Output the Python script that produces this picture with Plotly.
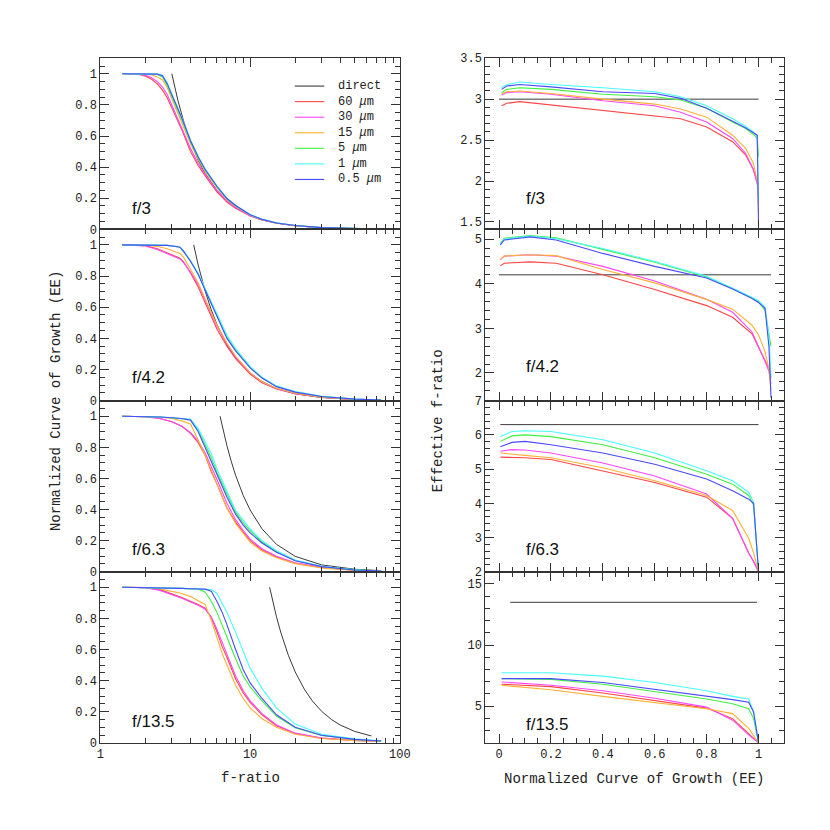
import plotly.graph_objects as go

W = H = 830

# ---------------- left column: normalized curve of growth vs f-ratio ----------------
# f/3
fr_f3 = [1.4, 1.8, 2.0, 2.2, 2.4, 2.6, 2.8, 3.0, 3.5, 4.0, 4.5, 5, 6, 7, 8, 10, 12, 15, 20, 30, 50, 75]
ee_f3_60 = [1, 0.997, 0.985, 0.965, 0.935, 0.895, 0.845, 0.78, 0.64, 0.50, 0.41, 0.345, 0.24, 0.175, 0.135, 0.085, 0.06, 0.039, 0.023, 0.01, 0.004, 0.002]
ee_f3_30 = [1, 0.998, 0.99, 0.975, 0.95, 0.915, 0.865, 0.8, 0.655, 0.52, 0.425, 0.355, 0.25, 0.182, 0.14, 0.087, 0.061, 0.04, 0.023, 0.01, 0.004, 0.002]
ee_f3_15 = [1, 1, 0.998, 0.993, 0.98, 0.96, 0.91, 0.84, 0.69, 0.55, 0.45, 0.372, 0.267, 0.19, 0.148, 0.091, 0.063, 0.041, 0.024, 0.011, 0.004, 0.002]
ee_f3_5 = [1, 1, 1, 1, 0.996, 0.98, 0.925, 0.855, 0.705, 0.562, 0.458, 0.38, 0.273, 0.195, 0.151, 0.093, 0.064, 0.041, 0.024, 0.011, 0.004, 0.002]
ee_f3_1 = [1, 1, 1, 1, 0.998, 0.99, 0.94, 0.87, 0.72, 0.575, 0.47, 0.39, 0.28, 0.2, 0.155, 0.095, 0.065, 0.042, 0.024, 0.011, 0.004, 0.002]
ee_f3_05 = [1, 1, 1, 1, 0.998, 0.988, 0.935, 0.865, 0.715, 0.57, 0.465, 0.386, 0.277, 0.198, 0.153, 0.094, 0.064, 0.041, 0.024, 0.011, 0.004, 0.002]
direct_fr_f3 = [3, 3.3, 3.6, 4, 4.5, 5, 6, 7, 8, 10, 12, 15, 20, 30, 50, 72]
direct_ee_f3 = [1, 0.826, 0.694, 0.563, 0.444, 0.36, 0.25, 0.184, 0.141, 0.09, 0.063, 0.04, 0.023, 0.01, 0.004, 0.002]

# f/4.2
fr_f42 = [1.4, 2.0, 2.4, 2.8, 3.2, 3.4, 3.6, 4.0, 4.5, 5, 5.5, 6, 7, 8, 10, 12, 15, 20, 30, 50, 75]
ee_f42_60 = [1, 0.995, 0.975, 0.95, 0.93, 0.915, 0.89, 0.82, 0.73, 0.63, 0.54, 0.46, 0.35, 0.27, 0.17, 0.115, 0.075, 0.045, 0.022, 0.008, 0.003]
ee_f42_30 = [1, 0.993, 0.97, 0.945, 0.925, 0.91, 0.885, 0.825, 0.745, 0.65, 0.56, 0.48, 0.365, 0.28, 0.178, 0.12, 0.078, 0.047, 0.023, 0.008, 0.003]
ee_f42_15 = [1, 0.998, 0.99, 0.975, 0.955, 0.945, 0.92, 0.845, 0.755, 0.655, 0.565, 0.485, 0.37, 0.285, 0.18, 0.122, 0.08, 0.048, 0.023, 0.008, 0.003]
ee_f42_5 = [1, 1, 1, 0.997, 0.99, 0.983, 0.955, 0.895, 0.815, 0.715, 0.628, 0.55, 0.41, 0.327, 0.215, 0.147, 0.092, 0.056, 0.027, 0.01, 0.004]
ee_f42_1 = [1, 1, 1, 0.997, 0.99, 0.985, 0.96, 0.9, 0.82, 0.72, 0.635, 0.56, 0.42, 0.335, 0.22, 0.15, 0.095, 0.058, 0.028, 0.01, 0.004]
ee_f42_05 = [1, 1, 1, 0.997, 0.99, 0.985, 0.958, 0.895, 0.81, 0.71, 0.62, 0.54, 0.40, 0.32, 0.21, 0.145, 0.09, 0.055, 0.027, 0.01, 0.004]
direct_fr_f42 = [4.2, 4.5, 5, 5.5, 6, 7, 8, 10, 12, 15, 20, 30, 50, 72]
direct_ee_f42 = [1, 0.871, 0.706, 0.583, 0.49, 0.36, 0.276, 0.176, 0.123, 0.078, 0.044, 0.02, 0.007, 0.003]

# f/6.3
fr_f63 = [1.4, 2.0, 2.5, 3.0, 3.5, 4.0, 4.5, 5, 5.5, 6, 7, 8, 9, 10, 12, 15, 20, 30, 50, 75]
ee_f63_60 = [1, 0.997, 0.985, 0.965, 0.935, 0.89, 0.83, 0.75, 0.645, 0.565, 0.41, 0.32, 0.255, 0.2, 0.14, 0.095, 0.055, 0.027, 0.01, 0.004]
ee_f63_30 = [1, 0.997, 0.985, 0.965, 0.935, 0.895, 0.84, 0.765, 0.675, 0.595, 0.44, 0.335, 0.265, 0.21, 0.148, 0.1, 0.058, 0.028, 0.01, 0.004]
ee_f63_15 = [1, 0.999, 0.995, 0.985, 0.97, 0.95, 0.85, 0.75, 0.655, 0.57, 0.41, 0.31, 0.245, 0.19, 0.133, 0.09, 0.052, 0.025, 0.009, 0.004]
ee_f63_5 = [1, 0.998, 0.995, 0.99, 0.986, 0.978, 0.91, 0.82, 0.735, 0.64, 0.5, 0.383, 0.315, 0.265, 0.193, 0.13, 0.072, 0.034, 0.012, 0.005]
ee_f63_1 = [1, 0.998, 0.995, 0.99, 0.987, 0.98, 0.92, 0.84, 0.76, 0.66, 0.52, 0.395, 0.33, 0.275, 0.2, 0.135, 0.075, 0.035, 0.012, 0.005]
ee_f63_05 = [1, 0.998, 0.995, 0.99, 0.985, 0.975, 0.9, 0.8, 0.71, 0.62, 0.48, 0.37, 0.3, 0.25, 0.185, 0.125, 0.07, 0.033, 0.011, 0.005]
direct_fr_f63 = [6.3, 6.6, 7, 7.5, 8, 9, 10, 12, 15, 20, 30, 50, 72]
direct_ee_f63 = [1, 0.911, 0.81, 0.706, 0.62, 0.49, 0.397, 0.276, 0.176, 0.099, 0.044, 0.016, 0.008]

# f/13.5
fr_f135 = [1.4, 2.0, 2.5, 3.0, 3.5, 4.0, 4.5, 5.0, 5.5, 6.0, 6.5, 7, 8, 9, 10, 12, 15, 20, 30, 50, 75]
ee_f135_60 = [1, 0.998, 0.985, 0.96, 0.935, 0.91, 0.89, 0.865, 0.805, 0.715, 0.62, 0.55, 0.41, 0.32, 0.26, 0.18, 0.11, 0.06, 0.03, 0.015, 0.01]
ee_f135_30 = [1, 0.997, 0.98, 0.955, 0.93, 0.905, 0.885, 0.86, 0.81, 0.73, 0.64, 0.57, 0.43, 0.335, 0.27, 0.188, 0.115, 0.062, 0.031, 0.015, 0.01]
ee_f135_15 = [1, 0.999, 0.99, 0.975, 0.96, 0.94, 0.915, 0.89, 0.79, 0.67, 0.575, 0.5, 0.37, 0.285, 0.225, 0.155, 0.1, 0.055, 0.028, 0.014, 0.01]
ee_f135_5 = [1, 0.999, 0.997, 0.995, 0.993, 0.99, 0.988, 0.97, 0.91, 0.84, 0.76, 0.68, 0.54, 0.43, 0.36, 0.27, 0.172, 0.097, 0.047, 0.021, 0.012]
ee_f135_1 = [1, 0.999, 0.997, 0.995, 0.993, 0.991, 0.99, 0.988, 0.985, 0.96, 0.9, 0.84, 0.71, 0.59, 0.48, 0.35, 0.225, 0.12, 0.055, 0.025, 0.012]
ee_f135_05 = [1, 0.999, 0.997, 0.995, 0.993, 0.991, 0.99, 0.988, 0.975, 0.91, 0.84, 0.76, 0.6, 0.47, 0.385, 0.285, 0.18, 0.1, 0.048, 0.022, 0.012]
direct_fr_f135 = [13.5, 14, 15, 16, 18, 20, 23, 26, 30, 35, 40, 50, 64.5]
direct_ee_f135 = [1, 0.93, 0.81, 0.712, 0.563, 0.456, 0.345, 0.27, 0.203, 0.149, 0.114, 0.073, 0.044]

# ---------------- right column: effective f-ratio vs normalized EE ----------------
eeg_f3 = [0.01, 0.03, 0.08, 0.2, 0.4, 0.6, 0.7, 0.8, 0.9, 0.95, 0.98, 0.995, 1.0]
feff_f3_60 = [2.92, 2.95, 2.97, 2.93, 2.86, 2.80, 2.76, 2.66, 2.48, 2.32, 2.14, 2.00, 1.92]
feff_f3_30 = [3.05, 3.08, 3.09, 3.06, 2.98, 2.92, 2.84, 2.72, 2.52, 2.34, 2.14, 1.98, 1.90]
feff_f3_15 = [3.07, 3.09, 3.10, 3.07, 3.00, 2.94, 2.88, 2.78, 2.56, 2.40, 2.22, 2.00, 1.60]
feff_f3_5 = [3.08, 3.12, 3.14, 3.12, 3.06, 3.03, 2.99, 2.89, 2.72, 2.64, 2.57, 2.52, 2.30]
feff_f3_1 = [3.14, 3.18, 3.21, 3.18, 3.14, 3.09, 3.03, 2.92, 2.76, 2.67, 2.60, 2.54, 1.75]
feff_f3_05 = [3.12, 3.16, 3.18, 3.15, 3.09, 3.07, 3.01, 2.89, 2.73, 2.65, 2.59, 2.56, 1.45]
direct_eeg_f3 = [0, 1.0]
direct_feff_f3 = [3, 3]

eeg_f42 = [0.005, 0.02, 0.12, 0.22, 0.4, 0.6, 0.8, 0.9, 0.975, 1.0, 1.025, 1.04, 1.048]
feff_f42_60 = [4.40, 4.46, 4.49, 4.46, 4.20, 3.87, 3.51, 3.25, 2.88, 2.58, 2.26, 2.10, 1.89]
feff_f42_30 = [4.54, 4.62, 4.65, 4.62, 4.39, 4.06, 3.65, 3.36, 2.92, 2.60, 2.26, 2.04, 1.75]
feff_f42_15 = [4.54, 4.62, 4.65, 4.63, 4.32, 4.02, 3.65, 3.43, 3.07, 2.85, 2.48, 2.10, 1.60]
feff_f42_5 = [4.90, 5.02, 5.08, 5.03, 4.77, 4.48, 4.15, 3.90, 3.68, 3.60, 3.40, 2.85, 2.60]
feff_f42_1 = [4.87, 5.00, 5.07, 5.01, 4.79, 4.50, 4.17, 3.91, 3.70, 3.62, 3.48, 2.85, 1.90]
feff_f42_05 = [4.87, 4.98, 5.05, 4.98, 4.68, 4.39, 4.13, 3.88, 3.67, 3.58, 3.45, 2.60, 1.45]
direct_eeg_f42 = [0, 1.048]
direct_feff_f42 = [4.2, 4.2]

eeg_f63 = [0.005, 0.05, 0.1, 0.2, 0.4, 0.6, 0.8, 0.9, 0.962, 0.981, 1.0]
feff_f63_60 = [5.35, 5.34, 5.33, 5.28, 4.95, 4.61, 4.18, 3.56, 2.55, 2.30, 2.0]
feff_f63_30 = [5.52, 5.57, 5.56, 5.47, 5.18, 4.80, 4.27, 3.56, 2.55, 2.30, 2.0]
feff_f63_15 = [5.47, 5.43, 5.40, 5.33, 5.04, 4.66, 4.23, 3.79, 2.98, 2.55, 2.0]
feff_f63_5 = [5.81, 5.97, 6.00, 5.95, 5.71, 5.33, 4.85, 4.56, 4.23, 3.94, 2.0]
feff_f63_1 = [5.95, 6.10, 6.12, 6.10, 5.86, 5.47, 4.95, 4.66, 4.32, 4.03, 2.02]
feff_f63_05 = [5.65, 5.78, 5.81, 5.71, 5.47, 5.14, 4.71, 4.37, 4.12, 4.0, 2.0]
direct_eeg_f63 = [0.005, 1.0]
direct_feff_f63 = [6.3, 6.3]

eeg_f135 = [0.01, 0.2, 0.4, 0.6, 0.8, 0.9, 0.962, 0.981, 1.0]
feff_f135_60 = [6.79, 6.60, 6.07, 5.45, 4.84, 3.98, 2.78, 2.4, 2.0]
feff_f135_30 = [6.98, 6.71, 6.26, 5.64, 4.92, 3.85, 2.65, 2.3, 2.0]
feff_f135_15 = [6.71, 6.34, 5.80, 5.27, 4.79, 4.39, 3.18, 2.6, 2.0]
feff_f135_5 = [7.25, 7.19, 6.79, 6.18, 5.59, 5.19, 4.79, 3.98, 2.0]
feff_f135_1 = [7.73, 7.73, 7.46, 6.93, 6.26, 5.80, 5.59, 4.52, 2.06]
feff_f135_05 = [7.25, 7.25, 6.93, 6.39, 5.86, 5.53, 5.32, 4.52, 2.0]
direct_eeg_f135 = [0.043, 0.994]
direct_feff_f135 = [13.5, 13.5]

legend_names = ["direct", "60 <i>μ</i>m", "30 <i>μ</i>m", "15 <i>μ</i>m",
                "5 <i>μ</i>m", "1 <i>μ</i>m", "0.5 <i>μ</i>m"]
line_colors = ["#3a3a3a", "#ff4545", "#ff45ff", "#ffb035", "#3ff03f", "#45ffff", "#4a4aff"]
panel_labels = ["f/3", "f/4.2", "f/6.3", "f/13.5"]

left_panels = [
    (fr_f3, [ee_f3_60, ee_f3_30, ee_f3_15, ee_f3_5, ee_f3_1, ee_f3_05], direct_fr_f3, direct_ee_f3),
    (fr_f42, [ee_f42_60, ee_f42_30, ee_f42_15, ee_f42_5, ee_f42_1, ee_f42_05], direct_fr_f42, direct_ee_f42),
    (fr_f63, [ee_f63_60, ee_f63_30, ee_f63_15, ee_f63_5, ee_f63_1, ee_f63_05], direct_fr_f63, direct_ee_f63),
    (fr_f135, [ee_f135_60, ee_f135_30, ee_f135_15, ee_f135_5, ee_f135_1, ee_f135_05], direct_fr_f135, direct_ee_f135),
]
right_panels = [
    (eeg_f3, [feff_f3_60, feff_f3_30, feff_f3_15, feff_f3_5, feff_f3_1, feff_f3_05], direct_eeg_f3, direct_feff_f3),
    (eeg_f42, [feff_f42_60, feff_f42_30, feff_f42_15, feff_f42_5, feff_f42_1, feff_f42_05], direct_eeg_f42, direct_feff_f42),
    (eeg_f63, [feff_f63_60, feff_f63_30, feff_f63_15, feff_f63_5, feff_f63_1, feff_f63_05], direct_eeg_f63, direct_feff_f63),
    (eeg_f135, [feff_f135_60, feff_f135_30, feff_f135_15, feff_f135_5, feff_f135_1, feff_f135_05], direct_eeg_f135, direct_feff_f135),
]

# panel geometry in pixels (top/bottom edges shared by both columns)
edges = [45, 219, 393.3, 567.3, 741.3]
left_px = [90, 395]
right_px = [482, 786.7]

fig = go.Figure()


def add_panel(n, xs, series, dx, dy):
    xa = "x" if n == 1 else "x%d" % n
    ya = "y" if n == 1 else "y%d" % n
    fig.add_trace(go.Scatter(x=dx, y=dy, mode="lines", xaxis=xa, yaxis=ya, showlegend=False,
                             line=dict(color=line_colors[0], width=1)))
    for i, ys in enumerate(series):
        fig.add_trace(go.Scatter(x=xs, y=ys, mode="lines", xaxis=xa, yaxis=ya, showlegend=False,
                                 line=dict(color=line_colors[i + 1], width=1.1)))


for k, p in enumerate(left_panels):
    add_panel(k + 1, *p)
for k, p in enumerate(right_panels):
    add_panel(k + 5, *p)

tickfont = dict(family="Liberation Mono", size=12, color="#222")
axis_common = dict(showline=True, linecolor="#333", linewidth=1, mirror="allticks",
                   ticks="inside", ticklen=9, tickcolor="#333", tickwidth=1,
                   showgrid=False, zeroline=False, tickfont=tickfont)


def minor(dt, t0=0):
    return dict(ticks="inside", ticklen=5, tickcolor="#333", tickwidth=1, dtick=dt, tick0=t0, showgrid=False)


layout = {}
right_y = [
    dict(range=[1.41, 3.5], tick0=1.5, dtick=0.5, mdt=0.1),
    dict(range=[1.38, 5.22], tick0=2, dtick=1, mdt=0.2),
    dict(range=[2, 7], tick0=2, dtick=1, mdt=0.2),
    dict(range=[2, 16], tick0=5, dtick=5, mdt=1),
]
for k in range(4):
    top, bot = edges[k], edges[k + 1]
    ydom = [1 - bot / H, 1 - top / H]
    # left column
    n = k + 1
    xk = "xaxis" if n == 1 else "xaxis%d" % n
    yk = "yaxis" if n == 1 else "yaxis%d" % n
    layout[xk] = dict(axis_common, type="log", range=[0, 2], domain=[left_px[0] / W, left_px[1] / W],
                      anchor="y" if n == 1 else "y%d" % n,
                      tickmode="linear", tick0=0, dtick=1, showticklabels=(k == 3),
                      minor=dict(ticks="inside", ticklen=5, tickcolor="#333", tickwidth=1,
                                 dtick="D1", showgrid=False))
    layout[yk] = dict(axis_common, range=[0, 1.1], domain=ydom, anchor="x" if n == 1 else "x%d" % n,
                      tickmode="linear", tick0=0, dtick=0.2, minor=minor(0.05))
    # right column
    n = k + 5
    layout["xaxis%d" % n] = dict(axis_common, range=[-0.053, 1.1], domain=[right_px[0] / W, right_px[1] / W],
                                 anchor="y%d" % n, tickmode="linear", tick0=0, dtick=0.2,
                                 showticklabels=(k == 3), minor=minor(0.05))
    ys = right_y[k]
    layout["yaxis%d" % n] = dict(axis_common, range=ys["range"], domain=ydom, anchor="x%d" % n,
                                 tickmode="linear", tick0=ys["tick0"], dtick=ys["dtick"],
                                 minor=minor(ys["mdt"]))

fig.update_layout(**layout)

annotations = []
shapes = []
label_font = dict(family="Liberation Sans", size=17, color="#111")
left_label_py = [198, 370, 545, 720]
right_label_py = [188, 359, 545, 723]
for k, lab in enumerate(panel_labels):
    annotations.append(dict(text=lab, x=120 / W, y=1 - left_label_py[k] / H, xref="paper", yref="paper",
                            xanchor="left", yanchor="middle", showarrow=False, font=label_font))
    annotations.append(dict(text=lab, x=521 / W, y=1 - right_label_py[k] / H, xref="paper", yref="paper",
                            xanchor="left", yanchor="middle", showarrow=False, font=label_font))

title_font = dict(family="Liberation Mono", size=14, color="#222")
titles = [
    ("Normalized Curve of Growth (EE)", 45, 393.5, -90),
    ("Effective f-ratio", 434, 414, -90),
    ("f-ratio", 242.5, 777, 0),
    ("Normalized Curve of Growth (EE)", 633, 778, 0),
]
for txt, px, py, ang in titles:
    annotations.append(dict(text=txt, x=px / W, y=1 - py / H, textangle=ang, xref="paper", yref="paper",
                            xanchor="center", yanchor="middle", showarrow=False, font=title_font))

# legend block inside the top-left panel
leg_font = dict(family="Liberation Mono", size=12, color="#222")
for i, name in enumerate(legend_names):
    py = 73.3 + i * 15.83
    shapes.append(dict(type="line", xref="paper", yref="paper", x0=288 / W, x1=318 / W,
                       y0=1 - py / H, y1=1 - py / H, line=dict(color=line_colors[i], width=1.1)))
    annotations.append(dict(text=name, x=330 / W, y=1 - py / H, xref="paper", yref="paper",
                            xanchor="left", yanchor="middle", showarrow=False, font=leg_font))

fig.update_layout(
    width=W, height=H,
    margin=dict(l=0, r=0, t=0, b=0),
    paper_bgcolor="white", plot_bgcolor="white",
    showlegend=False,
    annotations=annotations, shapes=shapes,
)

fig.write_html("out.html")
